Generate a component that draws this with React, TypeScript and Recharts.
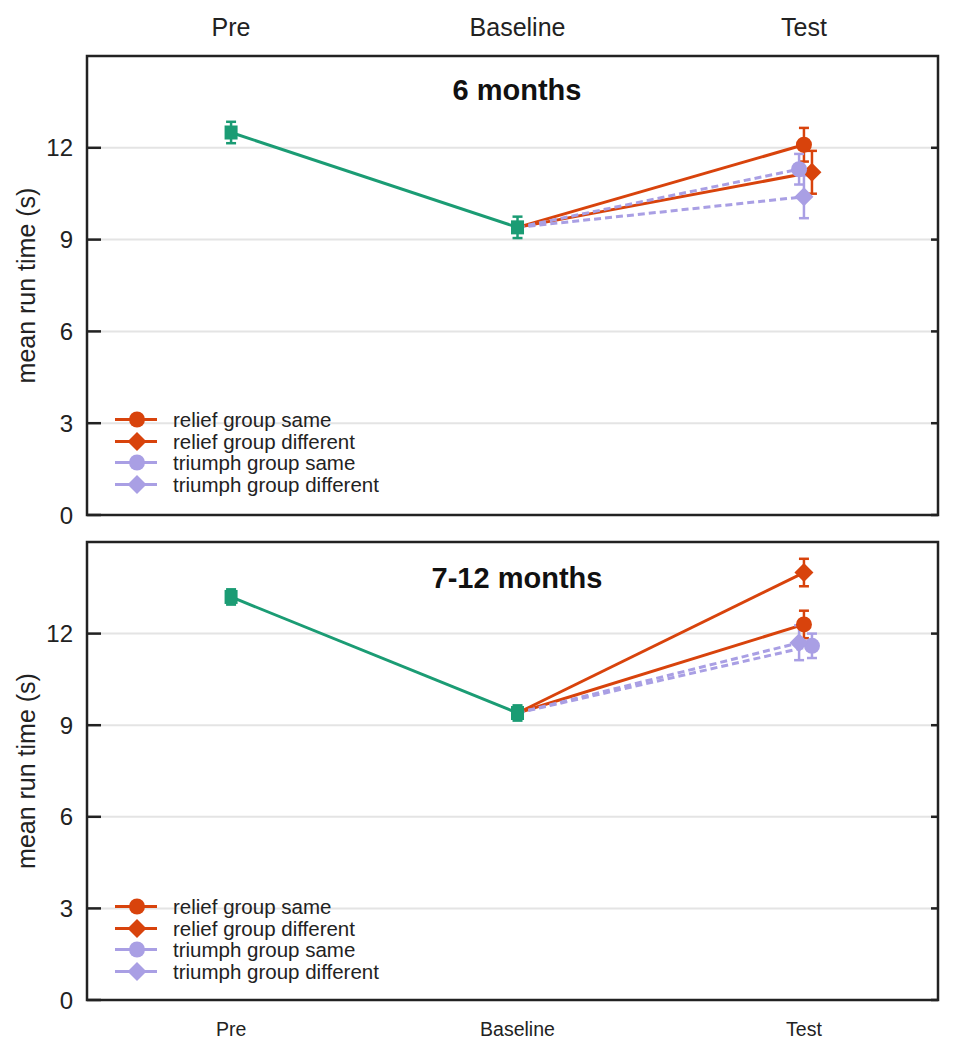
import { CartesianGrid, ErrorBar, Legend, Line, LineChart, ReferenceArea, XAxis, YAxis } from "recharts";

// categories and positions on the x scale
const phases = ["Pre", "Baseline", "Test"];
const phaseTicks = [0, 1, 2];
const yTicks = [0, 3, 6, 9, 12];

// groups shown at Test (same order in both panels)
const groupNames = ["relief group same", "relief group different", "triumph group same", "triumph group different"];
const groupShapes = ["circle", "diamond", "circle", "diamond"];
const groupColors = ["#d8430c", "#d8430c", "#a99fe4", "#a99fe4"];
const groupDashed = [false, false, true, true];

// 6 months
const sixCtrlMean = [12.5, 9.4];
const sixCtrlErr = [0.35, 0.35];
const sixTestMean = [12.1, 11.2, 11.3, 10.4];
const sixTestErr = [0.55, 0.7, 0.5, 0.7];
const sixTestDodge = [0, 0.028, -0.017, 0];

// 7-12 months
const olderCtrlMean = [13.2, 9.4];
const olderCtrlErr = [0.25, 0.25];
const olderTestMean = [12.3, 14.0, 11.6, 11.7];
const olderTestErr = [0.45, 0.45, 0.4, 0.57];
const olderTestDodge = [0, 0, 0.028, -0.017];

const GREEN = "#1b9c74";
const INK = "#222";
const FONT = "'Liberation Sans', Arial, sans-serif";
const W = 960;
const PLOT_LEFT = 87;
const PLOT_RIGHT = 938;
const X_DOMAIN: [number, number] = [-0.503, 2.468];

function Marker({ cx, cy, shape, color }: { cx: number; cy: number; shape: string; color: string }) {
  if (shape === "circle") return <circle cx={cx} cy={cy} r={8} fill={color} />;
  if (shape === "square") return <rect x={cx - 6.5} y={cy - 7} width={13} height={14} fill={color} />;
  const s = 9.5;
  return <path d={`M${cx},${cy - s}L${cx + s},${cy}L${cx},${cy + s}L${cx - s},${cy}Z`} fill={color} />;
}

function YTick(props: any) {
  const { y, payload } = props;
  return (
    <g>
      <line x1={PLOT_LEFT} x2={PLOT_LEFT + 14} y1={y} y2={y} stroke={INK} strokeWidth={2.5} />
      <line x1={PLOT_RIGHT - 7} x2={PLOT_RIGHT} y1={y} y2={y} stroke={INK} strokeWidth={2.5} />
      <text x={PLOT_LEFT - 14} y={y} dy="0.36em" textAnchor="end" fontSize={24} fill={INK} fontFamily={FONT}>
        {payload.value}
      </text>
    </g>
  );
}

function LegendBox() {
  return (
    <div style={{ fontFamily: FONT, fontSize: 20.5, color: INK, lineHeight: "21.5px" }}>
      {groupNames.map((name, i) => (
        <div key={name} style={{ display: "flex", alignItems: "center", height: 21.5 }}>
          <svg width={46} height={21} style={{ marginRight: 14 }}>
            <line x1={2} x2={44} y1={10.5} y2={10.5} stroke={groupColors[i]} strokeWidth={3} />
            <Marker cx={24} cy={10.5} shape={groupShapes[i]} color={groupColors[i]} />
          </svg>
          <span>{name}</span>
        </div>
      ))}
    </div>
  );
}

type PanelProps = {
  title: string;
  ctrlMean: number[];
  ctrlErr: number[];
  testMean: number[];
  testErr: number[];
  testDodge: number[];
  top: boolean;
  height: number;
  margin: { top: number; right: number; bottom: number; left: number };
  titleY: number;
  legendTop: number;
};

function Panel(p: PanelProps) {
  const ctrlData = p.ctrlMean.map((v, i) => ({ x: phaseTicks[i], y: v, err: p.ctrlErr[i] }));
  const groupData = groupNames.map((_, g) => [
    { x: phaseTicks[1], y: p.ctrlMean[1], err: null },
    { x: phaseTicks[2] + p.testDodge[g], y: p.testMean[g], err: p.testErr[g] },
  ]);

  return (
    <div style={{ position: "relative", width: W, height: p.height }}>
      <LineChart width={W} height={p.height} margin={p.margin}>
        <CartesianGrid vertical={false} stroke="#e4e4e4" strokeWidth={2} />
        <XAxis
          type="number"
          dataKey="x"
          orientation={p.top ? "top" : "bottom"}
          domain={X_DOMAIN}
          allowDataOverflow
          ticks={phaseTicks}
          tickFormatter={(v) => phases[v]}
          height={1}
          tickSize={0}
          tickMargin={p.top ? 20 : 22}
          axisLine={false}
          tickLine={false}
          tick={{ fontSize: p.top ? 25 : 19.5, fill: INK, fontFamily: FONT }}
        />
        <YAxis
          type="number"
          domain={[0, 15]}
          ticks={yTicks}
          width={1}
          tickSize={0}
          tickMargin={14}
          axisLine={false}
          tickLine={false}
          tick={<YTick />}
          label={(lp: any) => {
            const vb = lp.viewBox || {};
            const cy = (vb.y ?? 0) + (vb.height ?? 0) / 2;
            return (
              <text
                x={26}
                y={cy}
                transform={`rotate(-90 26 ${cy})`}
                textAnchor="middle"
                dominantBaseline="central"
                fontSize={25}
                fill={INK}
                fontFamily={FONT}
              >
                mean run time (s)
              </text>
            );
          }}
        />
        <ReferenceArea x1={X_DOMAIN[0]} x2={X_DOMAIN[1]} y1={0} y2={15} fill="none" stroke={INK} strokeWidth={2.5} fillOpacity={0} />
        {groupNames.map((name, g) => (
          <Line
            key={name}
            data={groupData[g]}
            dataKey="y"
            name={name}
            stroke={groupColors[g]}
            strokeWidth={3}
            strokeDasharray={groupDashed[g] ? "7 4" : undefined}
            isAnimationActive={false}
            activeDot={false}
            dot={(dp: any) =>
              dp.index === 1 ? (
                <Marker key={`d${g}`} cx={dp.cx} cy={dp.cy} shape={groupShapes[g]} color={groupColors[g]} />
              ) : (
                <g key={`e${g}`} />
              )
            }
          >
            <ErrorBar dataKey="err" direction="y" width={5} stroke={groupColors[g]} strokeWidth={2.5} />
          </Line>
        ))}
        <Line
          data={ctrlData}
          dataKey="y"
          name="control"
          stroke={GREEN}
          strokeWidth={3}
          isAnimationActive={false}
          activeDot={false}
          dot={(dp: any) => <Marker key={`c${dp.index}`} cx={dp.cx} cy={dp.cy} shape="square" color={GREEN} />}
        >
          <ErrorBar dataKey="err" direction="y" width={5} stroke={GREEN} strokeWidth={2.5} />
        </Line>
        <Legend
          layout="vertical"
          align="center"
          verticalAlign="middle"
          wrapperStyle={{ left: 113, top: p.legendTop, width: "auto" }}
          content={() => <LegendBox />}
        />
      </LineChart>
      <div
        style={{
          position: "absolute",
          left: 517,
          top: p.titleY,
          transform: "translate(-50%, -50%)",
          fontFamily: FONT,
          fontWeight: "bold",
          fontSize: 29,
          color: "#111",
          whiteSpace: "nowrap",
        }}
      >
        {p.title}
      </div>
    </div>
  );
}

export default function App() {
  return (
    <div style={{ position: "absolute", left: 0, top: 0, width: W, height: 1050, background: "#fff" }}>
      <Panel
        title="6 months"
        ctrlMean={sixCtrlMean}
        ctrlErr={sixCtrlErr}
        testMean={sixTestMean}
        testErr={sixTestErr}
        testDodge={sixTestDodge}
        top
        height={528}
        margin={{ top: 55, right: 22, bottom: 13, left: 86 }}
        titleY={90}
        legendTop={409}
      />
      <Panel
        title="7-12 months"
        ctrlMean={olderCtrlMean}
        ctrlErr={olderCtrlErr}
        testMean={olderTestMean}
        testErr={olderTestErr}
        testDodge={olderTestDodge}
        top={false}
        height={522}
        margin={{ top: 14, right: 22, bottom: 49, left: 86 }}
        titleY={50}
        legendTop={368}
      />
    </div>
  );
}
